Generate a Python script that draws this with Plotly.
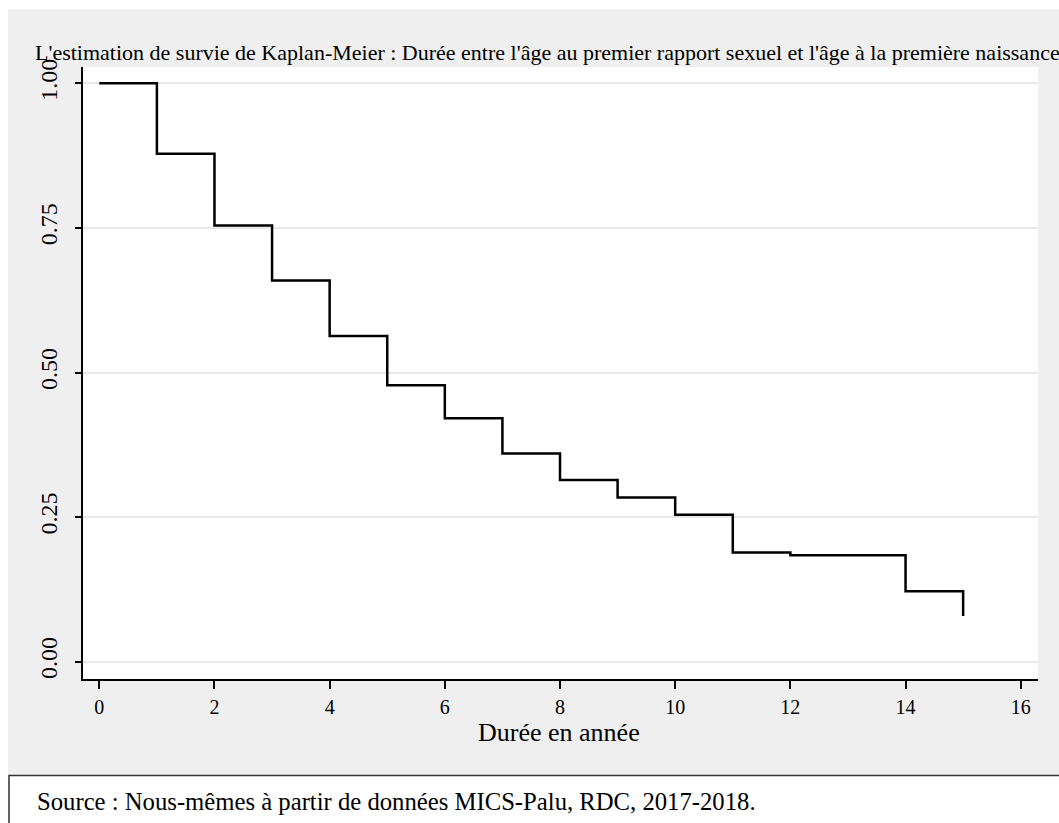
import plotly.graph_objects as go

# Data (Kaplan-Meier survival estimate)
times = [0, 1, 2, 3, 4, 5, 6, 7, 8, 9, 10, 11, 12, 14, 15]
survival = [1.000, 0.878, 0.754, 0.659, 0.563, 0.478, 0.421, 0.360, 0.314,
            0.284, 0.254, 0.189, 0.184, 0.122, 0.079]
x_ticks = [0, 2, 4, 6, 8, 10, 12, 14, 16]
y_ticks = [0, 0.25, 0.5, 0.75, 1.0]
y_ticktext = ["0.00", "0.25", "0.50", "0.75", "1.00"]

title_text = ("L'estimation de survie de Kaplan-Meier : Durée entre l'âge au premier "
              "rapport sexuel et l'âge à la première naissance")
xaxis_title = "Durée en année"
source_text = "Source : Nous-mêmes à partir de données MICS-Palu, RDC, 2017-2018."

W, H = 1059, 823
L, R, T, B = 83, 1038, 67, 679
FONT = "Liberation Serif"
GRAY = "#EFEFEF"


def px(x):
    return (x - L) / (R - L)


def py(y):
    return (B - y) / (B - T)


fig = go.Figure()
fig.add_trace(go.Scatter(
    x=times, y=survival, mode="lines", line=dict(shape="hv", color="black", width=2.5),
    showlegend=False, hoverinfo="skip"))

fig.update_layout(
    width=W, height=H,
    margin=dict(l=L, r=W - R, t=T, b=H - B, pad=0),
    paper_bgcolor=GRAY, plot_bgcolor="white",
    font=dict(family=FONT, color="black", size=20),
    xaxis=dict(range=[-0.283, 16.30], tickvals=x_ticks, ticks="outside", ticklen=8,
               tickwidth=2, tickcolor="black", showgrid=False, zeroline=False,
               showline=True, linecolor="black", linewidth=2,
               tickfont=dict(size=20, family=FONT), ticklabelstandoff=1),
    yaxis=dict(range=[-0.0299, 1.0282], tickvals=y_ticks, ticktext=y_ticktext,
               tickangle=-90, ticks="outside", ticklen=6, tickwidth=2,
               tickcolor="black", showgrid=True, gridcolor="#E8E8E8", gridwidth=2,
               zeroline=False, showline=True, linecolor="black", linewidth=2,
               tickfont=dict(size=24, family=FONT), ticklabelstandoff=8),
    shapes=[
        # white border strips outside the grey graph region
        dict(type="rect", xref="paper", yref="paper", x0=px(-5), x1=px(W + 5),
             y0=py(9), y1=py(-5), fillcolor="white", line=dict(width=0), layer="above"),
        dict(type="rect", xref="paper", yref="paper", x0=px(-5), x1=px(8),
             y0=py(H + 5), y1=py(-5), fillcolor="white", line=dict(width=0), layer="above"),
        # source note box
        dict(type="rect", xref="paper", yref="paper", x0=px(9), x1=px(W + 20),
             y0=py(H + 20), y1=py(775.5), fillcolor="white",
             line=dict(color="#333333", width=1.5), layer="above"),
    ],
    annotations=[
        dict(text=title_text, xref="paper", yref="paper", x=px(547), y=py(52),
             xanchor="center", yanchor="middle", showarrow=False,
             font=dict(size=22, family=FONT, color="black")),
        dict(text=xaxis_title, xref="paper", yref="paper", x=px(559), y=py(732),
             xanchor="center", yanchor="middle", showarrow=False,
             font=dict(size=26, family=FONT, color="black")),
        dict(text=source_text, xref="paper", yref="paper", x=px(35), y=py(801),
             xanchor="left", yanchor="middle", showarrow=False,
             font=dict(size=24.7, family=FONT, color="black")),
    ],
)

fig.write_html("out.html")
